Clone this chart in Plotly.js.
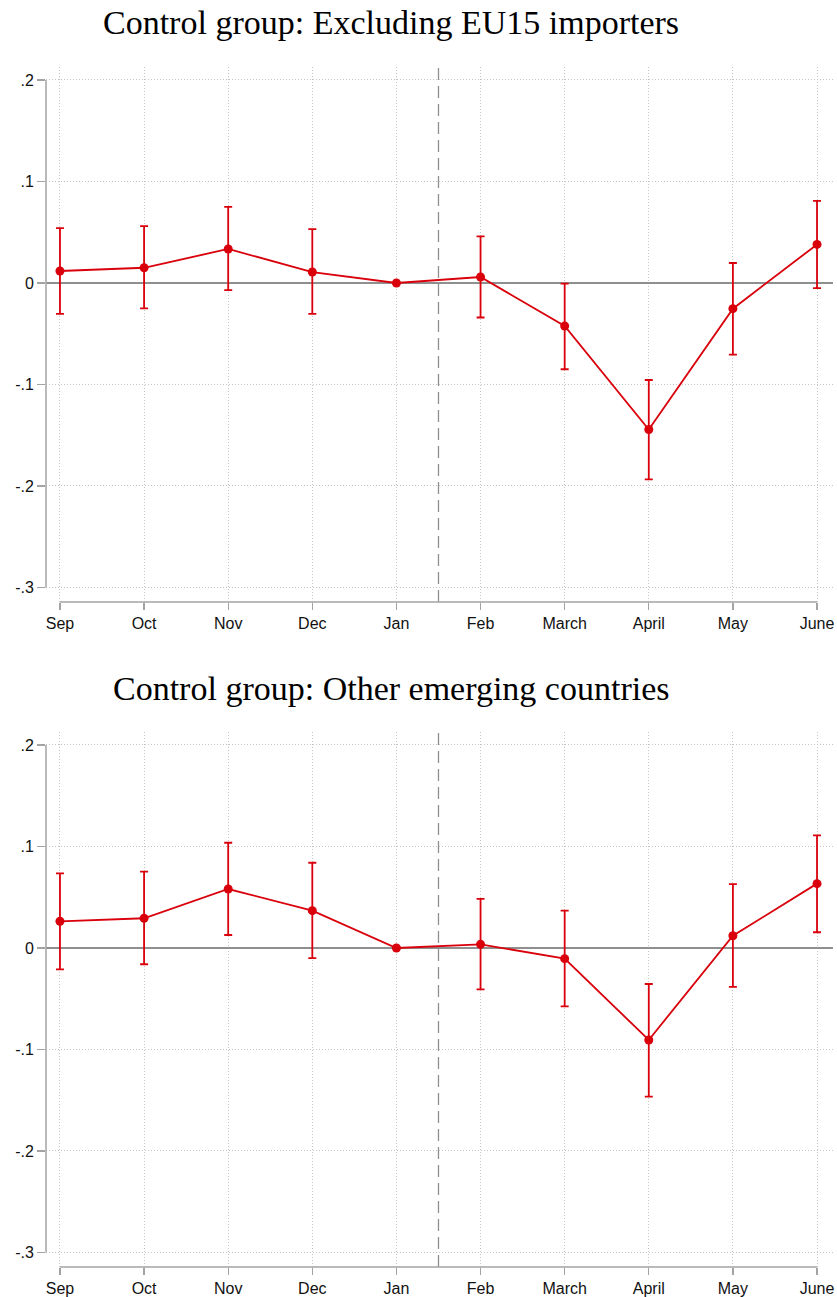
<!DOCTYPE html>
<html>
<head>
<meta charset="utf-8">
<script src="https://cdn.plot.ly/plotly-3.0.1.min.js"></script>
<style>
html,body{margin:0;padding:0;background:#fff;}
#chart{width:837px;height:1297px;}
</style>
</head>
<body>
<div id="chart"></div>
<script>
// ---- Data ----
const months = ["Sep","Oct","Nov","Dec","Jan","Feb","March","April","May","June"];

const titleTop = "Control group: Excluding EU15 importers";
const estTop  = [0.0118, 0.0150, 0.0335, 0.0108, 0, 0.0059, -0.0424, -0.1444, -0.0253, 0.0380];
const hiTop   = [0.0540, 0.0560, 0.0750, 0.0530, null, 0.0460, -0.0007, -0.0956, 0.0197, 0.0810];
const loTop   = [-0.0305, -0.0250, -0.0070, -0.0305, null, -0.0340, -0.0850, -0.1934, -0.0706, -0.0050];

const titleBot = "Control group: Other emerging countries";
const estBot  = [0.0263, 0.0293, 0.0581, 0.0368, 0, 0.0036, -0.0105, -0.0906, 0.0121, 0.0634];
const hiBot   = [0.0736, 0.0752, 0.1037, 0.0840, null, 0.0483, 0.0368, -0.0355, 0.0630, 0.1110];
const loBot   = [-0.0210, -0.0160, 0.0128, -0.0099, null, -0.0407, -0.0575, -0.1465, -0.0384, 0.0155];

const yTickVals = [-0.3, -0.2, -0.1, 0, 0.1, 0.2];
const yTickText = ["-.3", "-.2", "-.1", "0", ".1", ".2"];
const treatmentPos = 4.5; // between Jan and Feb

// ---- Styling ----
const RED = "#d9000b";
const AXIS = "#a3a3a3";
const ZERO = "#8f8f8f";
const GRID = "#c4c4c4";
const TICKFONT = {family: "Liberation Sans, Arial, sans-serif", size: 16, color: "#111"};

function mkTrace(est, hi, lo, xa, ya) {
  const plus = est.map((v, i) => hi[i] === null ? null : hi[i] - v);
  const minus = est.map((v, i) => lo[i] === null ? null : v - lo[i]);
  return {
    type: "scatter", mode: "lines+markers",
    x: months, y: est, xaxis: xa, yaxis: ya,
    line: {color: RED, width: 1.8},
    marker: {color: RED, size: 9},
    error_y: {type: "data", symmetric: false, array: plus, arrayminus: minus,
              color: RED, thickness: 1.8, width: 4},
    showlegend: false, hoverinfo: "x+y", cliponaxis: false
  };
}

const H = 1297;
const domTop = [1 - 602 / H, 1 - 67 / H];
const domBot = [1 - 1267 / H, 1 - 732 / H];

function xAx(anchor) {
  return {
    type: "category", anchor: anchor, domain: [0, 1],
    range: [-0.166, 9.19],
    showline: false, zeroline: false,
    showgrid: true, gridcolor: GRID, griddash: "1px,2px", gridwidth: 1,
    ticks: "outside", ticklen: 7, tickwidth: 1.2, tickcolor: AXIS,
    tickfont: TICKFONT, automargin: false, fixedrange: true
  };
}
function yAx(anchor, dom) {
  return {
    anchor: anchor, domain: dom,
    range: [-0.3143, 0.2128],
    tickmode: "array", tickvals: yTickVals, ticktext: yTickText,
    showline: false,
    zeroline: true, zerolinecolor: ZERO, zerolinewidth: 1.5,
    showgrid: true, gridcolor: GRID, griddash: "1px,2px", gridwidth: 1,
    ticks: "outside", ticklen: 8, tickwidth: 1.2, tickcolor: AXIS,
    tickfont: TICKFONT, automargin: false, fixedrange: true
  };
}

function axisShapes(xr, yr) {
  return [
    // x axis line from first to last month
    {type: "line", xref: xr, yref: yr + " domain", x0: 0, x1: months.length - 1, y0: 0, y1: 0,
     line: {color: AXIS, width: 1.5}, layer: "above"},
    // y axis line from lowest to highest tick
    {type: "line", xref: xr + " domain", yref: yr, x0: 0, x1: 0,
     y0: yTickVals[0], y1: yTickVals[yTickVals.length - 1],
     line: {color: AXIS, width: 1.5}, layer: "above"},
    // treatment dashed line
    {type: "line", xref: xr, yref: yr + " domain", x0: treatmentPos, x1: treatmentPos, y0: 0, y1: 1,
     line: {color: "#8f8f8f", width: 1.3, dash: "12px,6px"}, layer: "below"}
  ];
}

const data = [
  mkTrace(estTop, hiTop, loTop, "x", "y"),
  mkTrace(estBot, hiBot, loBot, "x2", "y2")
];

const TITLEFONT = {family: "Liberation Serif, Times New Roman, serif", size: 34, color: "#000"};
const layout = {
  width: 837, height: 1297,
  margin: {l: 46, r: 4, t: 0, b: 0},
  paper_bgcolor: "#fff", plot_bgcolor: "#fff",
  showlegend: false,
  xaxis: xAx("y"), yaxis: yAx("x", domTop),
  xaxis2: xAx("y2"), yaxis2: yAx("x2", domBot),
  shapes: axisShapes("x", "y").concat(axisShapes("x2", "y2")),
  annotations: [
    {text: titleTop, xref: "paper", yref: "paper", x: (391 - 46) / 787, y: 1 - 22 / H,
     xanchor: "center", yanchor: "middle", showarrow: false, font: TITLEFONT},
    {text: titleBot, xref: "paper", yref: "paper", x: (391 - 46) / 787, y: 1 - 688 / H,
     xanchor: "center", yanchor: "middle", showarrow: false, font: TITLEFONT}
  ]
};

Plotly.newPlot("chart", data, layout, {displayModeBar: false, staticPlot: true});
</script>
</body>
</html>
